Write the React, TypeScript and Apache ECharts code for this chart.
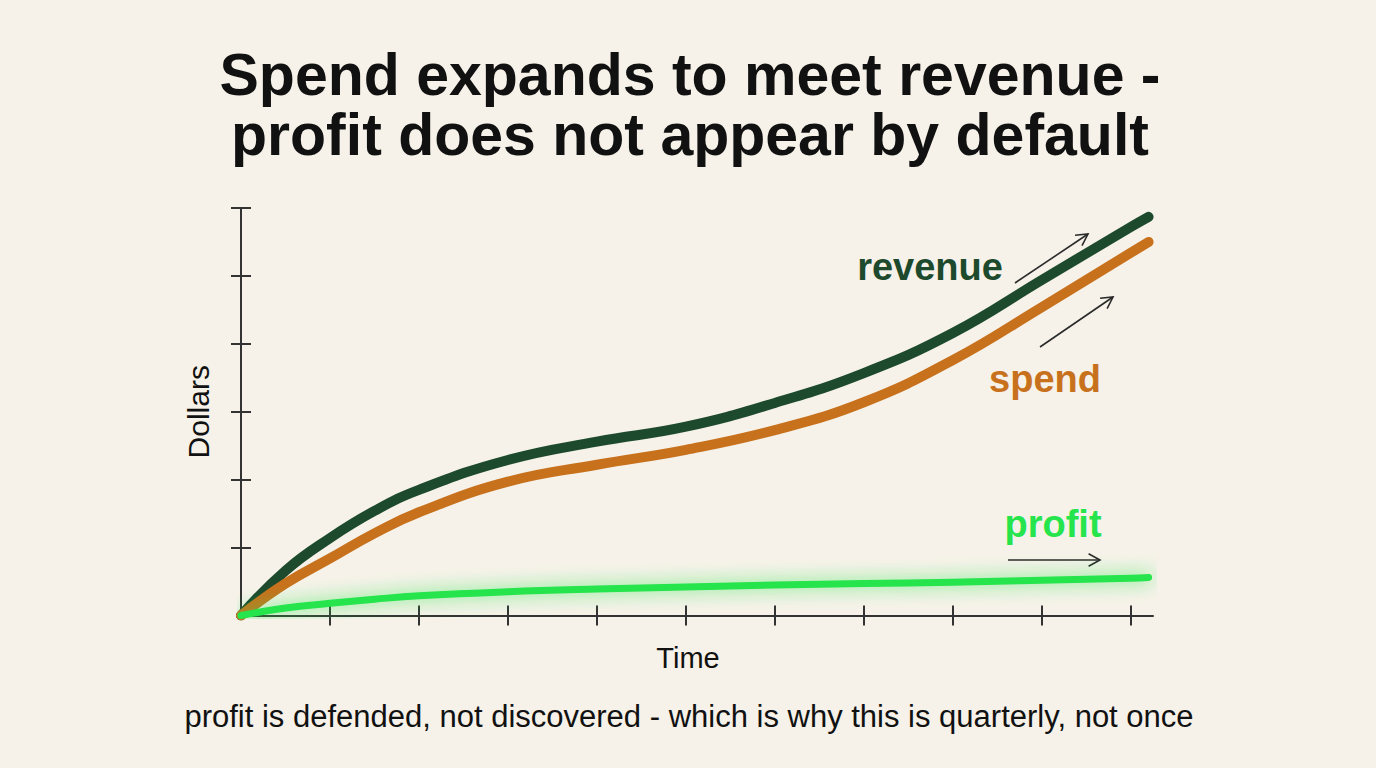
import React, { useEffect, useRef } from "react";
import * as echarts from "echarts";

// ---- data ----
const timePoints = [0, 0.5, 1, 1.5, 2, 3, 4, 5, 6, 7, 8, 9, 10, 10.2];
const revenue = [0, 0.66, 1.14, 1.54, 1.85, 2.29, 2.56, 2.78, 3.13, 3.57, 4.16, 4.94, 5.72, 5.87];
const spend = [0, 0.47, 0.84, 1.21, 1.52, 1.97, 2.22, 2.44, 2.73, 3.14, 3.76, 4.54, 5.34, 5.5];
const profit = [0, 0.11, 0.18, 0.24, 0.29, 0.35, 0.39, 0.42, 0.45, 0.47, 0.49, 0.52, 0.55, 0.56];
const xTickValues = [1, 2, 3, 4, 5, 6, 7, 8, 9, 10];
const yTickValues = [1, 2, 3, 4, 5, 6];

const titleText = "Spend expands to meet revenue -\nprofit does not appear by default";
const subtitle = "profit is defended, not discovered - which is why this is quarterly, not once";
const xName = "Time";
const yName = "Dollars";
const seriesNames = ["revenue", "spend", "profit"];

const BG = "#f6f2e9";
const INK = "#111111";
const AXIS = "#333333";
const C_REV = "#1d4a2d";
const C_SPEND = "#c8711d";
const C_PROFIT = "#26e44b";
const FONT = '"Liberation Sans", Arial, sans-serif';

function pairs(xs: number[], ys: number[]) {
  return xs.map((x, i) => [x, ys[i]]);
}

function arrow(x1: number, y1: number, x2: number, y2: number) {
  const ang = Math.atan2(y2 - y1, x2 - x1);
  const len = 13;
  const spread = 0.5;
  const a1 = ang + Math.PI - spread;
  const a2 = ang + Math.PI + spread;
  return {
    type: "group",
    children: [
      {
        type: "line",
        shape: { x1, y1, x2, y2 },
        style: { stroke: "#2a2a2a", lineWidth: 1.6 },
      },
      {
        type: "polyline",
        shape: {
          points: [
            [x2 + len * Math.cos(a1), y2 + len * Math.sin(a1)],
            [x2, y2],
            [x2 + len * Math.cos(a2), y2 + len * Math.sin(a2)],
          ],
        },
        style: { stroke: "#2a2a2a", lineWidth: 1.6, fill: "none" },
      },
    ],
  };
}

function label(text: string, x: number, y: number, color: string, size: number, weight: string, lineHeight?: number) {
  return {
    type: "text",
    x,
    y,
    style: {
      text,
      fill: color,
      fontSize: size,
      fontWeight: weight,
      fontFamily: FONT,
      lineHeight: lineHeight || size,
      align: "center",
      verticalAlign: "middle",
    },
  };
}

export default function App() {
  const ref = useRef<HTMLDivElement>(null);

  useEffect(() => {
    document.body.style.margin = "0";
    document.body.style.background = BG;
    if (!ref.current) return;
    const chart = echarts.init(ref.current, undefined, { renderer: "svg" });

    const baseX = {
      type: "value",
      min: 0,
      max: 10.25,
      interval: 1,
      position: "bottom",
      splitLine: { show: false },
      axisLabel: { show: false },
    };
    const baseY = {
      type: "value",
      min: 0,
      max: 6,
      interval: 1,
      position: "left",
      splitLine: { show: false },
      axisLabel: { show: false },
    };
    const tickStyle = { color: AXIS, width: 2 };

    chart.setOption({
      animation: false,
      backgroundColor: BG,
      grid: { left: 241, top: 208, right: 223, bottom: 152.5, containLabel: false },
      xAxis: [
        {
          ...baseX,
          name: xName,
          nameLocation: "middle",
          nameGap: 28,
          nameTextStyle: { color: INK, fontSize: 29, fontFamily: FONT, padding: [0, 18, 0, 0] },
          axisLine: { show: true, lineStyle: { color: AXIS, width: 2 } },
          axisTick: { show: true, inside: false, length: 10, customValues: xTickValues, lineStyle: tickStyle },
        },
        {
          ...baseX,
          axisLine: { show: false },
          axisTick: { show: true, inside: true, length: 10, customValues: xTickValues, lineStyle: tickStyle },
        },
      ],
      yAxis: [
        {
          ...baseY,
          name: yName,
          nameLocation: "middle",
          nameGap: 28,
          nameTextStyle: { color: INK, fontSize: 30, fontFamily: FONT },
          axisLine: { show: true, lineStyle: { color: AXIS, width: 2 } },
          axisTick: { show: true, inside: false, length: 10, customValues: yTickValues, lineStyle: tickStyle },
        },
        {
          ...baseY,
          axisLine: { show: false },
          axisTick: { show: true, inside: true, length: 10, customValues: yTickValues, lineStyle: tickStyle },
        },
      ],
      series: [
        {
          name: seriesNames[0],
          type: "line",
          data: pairs(timePoints, revenue),
          smooth: 0.45,
          showSymbol: false,
          lineStyle: { color: C_REV, width: 10, cap: "round", join: "round" },
          z: 3,
        },
        {
          name: seriesNames[1],
          type: "line",
          data: pairs(timePoints, spend),
          smooth: 0.45,
          showSymbol: false,
          lineStyle: { color: C_SPEND, width: 10, cap: "round", join: "round" },
          z: 4,
        },
        {
          name: seriesNames[2],
          type: "line",
          data: pairs(timePoints, profit),
          smooth: 0.45,
          showSymbol: false,
          lineStyle: {
            color: C_PROFIT,
            width: 7,
            cap: "round",
            join: "round",
            shadowBlur: 18,
            shadowColor: "rgba(40,230,75,0.8)",
          },
          z: 5,
        },
      ],
      graphic: [
        label(titleText, 690, 104.5, INK, 59, "bold", 60),
        label(subtitle, 689, 716, INK, 31, "normal"),
        label(seriesNames[0], 930, 267, C_REV, 38, "bold"),
        label(seriesNames[1], 1045, 379, C_SPEND, 38, "bold"),
        label(seriesNames[2], 1053, 524, C_PROFIT, 38, "bold"),
        arrow(1015, 283, 1088, 234),
        arrow(1040, 347, 1113, 297),
        arrow(1008, 560, 1100, 560),
      ],
    });

    return () => chart.dispose();
  }, []);

  return (
    <div
      ref={ref}
      style={{ position: "fixed", left: 0, top: 0, width: 1376, height: 768, background: BG }}
    />
  );
}
